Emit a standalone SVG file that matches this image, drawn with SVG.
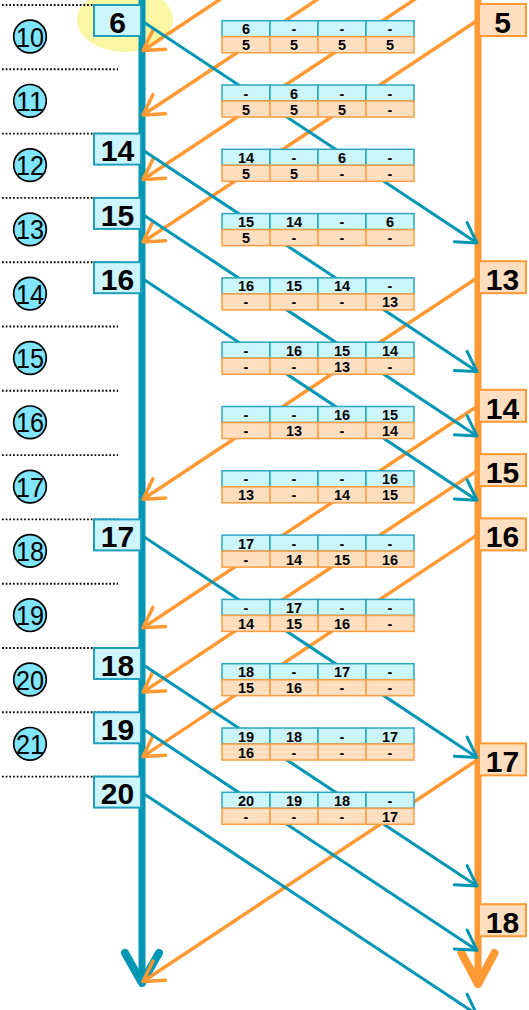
<svg xmlns="http://www.w3.org/2000/svg" width="529" height="1010" viewBox="0 0 529 1010">
<style>
.dot{stroke:#000;stroke-width:1.9;stroke-dasharray:1.7 2;fill:none}
.circ{fill:#80e6ff;stroke:#000;stroke-width:1.7}
.ct{font-family:"Liberation Sans",Arial,sans-serif;font-size:28px;fill:#000;text-anchor:middle}
.bb{fill:#ccf5fd;stroke:#1e9fbd;stroke-width:2}
.ob{fill:#ffdfc0;stroke:#ff9933;stroke-width:2}
.bt{font-family:"Liberation Sans",Arial,sans-serif;font-size:30px;font-weight:bold;fill:#000;text-anchor:middle}
.tc{fill:#ccf6fd;stroke:#2aa5c4;stroke-width:1.5}
.oc{fill:#ffdfc0;stroke:#fb9d40;stroke-width:1.5}
.tt{font-family:"Liberation Sans",Arial,sans-serif;font-size:14.5px;font-weight:bold;fill:#000;text-anchor:middle}
.ba{stroke:#0096b4;stroke-width:3;fill:none;marker-end:url(#ab)}
.oa{stroke:#ff9933;stroke-width:3.5;fill:none;marker-end:url(#ao)}
</style>
<defs>
<marker id="ab" markerUnits="userSpaceOnUse" viewBox="-25 -15 30 30" markerWidth="30" markerHeight="30" refX="0" refY="0" orient="auto" overflow="visible">
<path d="M-19.5,-11.5 L0,0 L-19.5,11.5" fill="none" stroke="#0096b4" stroke-width="3" stroke-linecap="round" stroke-linejoin="round"/>
</marker>
<marker id="ao" markerUnits="userSpaceOnUse" viewBox="-25 -15 30 30" markerWidth="30" markerHeight="30" refX="0" refY="0" orient="auto" overflow="visible">
<path d="M-19.5,-11.5 L0,0 L-19.5,11.5" fill="none" stroke="#ff9933" stroke-width="3.5" stroke-linecap="round" stroke-linejoin="round"/>
</marker>
</defs>
<rect width="529" height="1010" fill="#fff"/>
<ellipse id="highlight" cx="125" cy="20" rx="48" ry="32" fill="#fbf6a4"/>
<g id="separators">
<line class="dot" x1="2" y1="5" x2="118" y2="5"/>
<line class="dot" x1="2" y1="69.3" x2="118" y2="69.3"/>
<line class="dot" x1="2" y1="133.6" x2="118" y2="133.6"/>
<line class="dot" x1="2" y1="197.9" x2="118" y2="197.9"/>
<line class="dot" x1="2" y1="262.2" x2="118" y2="262.2"/>
<line class="dot" x1="2" y1="326.5" x2="118" y2="326.5"/>
<line class="dot" x1="2" y1="390.8" x2="118" y2="390.8"/>
<line class="dot" x1="2" y1="455.1" x2="118" y2="455.1"/>
<line class="dot" x1="2" y1="519.4" x2="118" y2="519.4"/>
<line class="dot" x1="2" y1="583.7" x2="118" y2="583.7"/>
<line class="dot" x1="2" y1="648" x2="118" y2="648"/>
<line class="dot" x1="2" y1="712.3" x2="118" y2="712.3"/>
<line class="dot" x1="2" y1="776.6" x2="118" y2="776.6"/>
</g>
<g id="steps">
<g id="step10"><circle class="circ" cx="30" cy="36.5" r="16.3"/><text class="ct" x="30" y="46.5" textLength="28" lengthAdjust="spacingAndGlyphs">10</text></g>
<g id="step11"><circle class="circ" cx="30" cy="100.8" r="16.3"/><text class="ct" x="30" y="110.8" textLength="28" lengthAdjust="spacingAndGlyphs">11</text></g>
<g id="step12"><circle class="circ" cx="30" cy="165.1" r="16.3"/><text class="ct" x="30" y="175.1" textLength="28" lengthAdjust="spacingAndGlyphs">12</text></g>
<g id="step13"><circle class="circ" cx="30" cy="229.4" r="16.3"/><text class="ct" x="30" y="239.4" textLength="28" lengthAdjust="spacingAndGlyphs">13</text></g>
<g id="step14"><circle class="circ" cx="30" cy="293.7" r="16.3"/><text class="ct" x="30" y="303.7" textLength="28" lengthAdjust="spacingAndGlyphs">14</text></g>
<g id="step15"><circle class="circ" cx="30" cy="358" r="16.3"/><text class="ct" x="30" y="368" textLength="28" lengthAdjust="spacingAndGlyphs">15</text></g>
<g id="step16"><circle class="circ" cx="30" cy="422.3" r="16.3"/><text class="ct" x="30" y="432.3" textLength="28" lengthAdjust="spacingAndGlyphs">16</text></g>
<g id="step17"><circle class="circ" cx="30" cy="486.6" r="16.3"/><text class="ct" x="30" y="496.6" textLength="28" lengthAdjust="spacingAndGlyphs">17</text></g>
<g id="step18"><circle class="circ" cx="30" cy="550.9" r="16.3"/><text class="ct" x="30" y="560.9" textLength="28" lengthAdjust="spacingAndGlyphs">18</text></g>
<g id="step19"><circle class="circ" cx="30" cy="615.2" r="16.3"/><text class="ct" x="30" y="625.2" textLength="28" lengthAdjust="spacingAndGlyphs">19</text></g>
<g id="step20"><circle class="circ" cx="30" cy="679.5" r="16.3"/><text class="ct" x="30" y="689.5" textLength="28" lengthAdjust="spacingAndGlyphs">20</text></g>
<g id="step21"><circle class="circ" cx="30" cy="743.8" r="16.3"/><text class="ct" x="30" y="753.8" textLength="28" lengthAdjust="spacingAndGlyphs">21</text></g>
</g>
<g id="timelines">
<line x1="142" y1="0" x2="142" y2="982" stroke="#0096b4" stroke-width="7"/>
<polyline points="125,953 142,983 159,953" fill="none" stroke="#0096b4" stroke-width="8" stroke-linecap="round" stroke-linejoin="round"/>
<line x1="478" y1="0" x2="478" y2="983" stroke="#ff9933" stroke-width="7"/>
<polyline points="461.5,953 478,984 494.5,953" fill="none" stroke="#ff9933" stroke-width="8" stroke-linecap="round" stroke-linejoin="round"/>
</g>
<g id="connectors">
<line class="oa" x1="478" y1="-171.5" x2="143" y2="50.5"/>
<line class="oa" x1="478" y1="-107" x2="143" y2="115"/>
<line class="oa" x1="478" y1="-42.5" x2="143" y2="179.5"/>
<line class="oa" x1="478" y1="20" x2="143" y2="242"/>
<line class="oa" x1="478" y1="277.2" x2="143" y2="499.2"/>
<line class="oa" x1="478" y1="405.8" x2="143" y2="627.8"/>
<line class="oa" x1="478" y1="470.1" x2="143" y2="692.1"/>
<line class="oa" x1="478" y1="534.4" x2="143" y2="756.4"/>
<line class="oa" x1="478" y1="759.5" x2="143" y2="981.5"/>
<line class="ba" x1="142" y1="21" x2="477" y2="243"/>
<line class="ba" x1="142" y1="149.6" x2="477" y2="371.6"/>
<line class="ba" x1="142" y1="213.9" x2="477" y2="435.9"/>
<line class="ba" x1="142" y1="278.2" x2="477" y2="500.2"/>
<line class="ba" x1="142" y1="535.4" x2="477" y2="757.4"/>
<line class="ba" x1="142" y1="664" x2="477" y2="886"/>
<line class="ba" x1="142" y1="728.3" x2="477" y2="950.3"/>
<line class="ba" x1="142" y1="792.6" x2="477" y2="1014.6"/>
</g>
<g id="tables">
<g id="t0" transform="translate(222,20.7)"><rect class="tc" x="0" y="0" width="48" height="16"/><rect class="tc" x="48" y="0" width="48" height="16"/><rect class="tc" x="96" y="0" width="48" height="16"/><rect class="tc" x="144" y="0" width="48" height="16"/><rect class="oc" x="0" y="16" width="48" height="16"/><rect class="oc" x="48" y="16" width="48" height="16"/><rect class="oc" x="96" y="16" width="48" height="16"/><rect class="oc" x="144" y="16" width="48" height="16"/>
<text class="tt" x="24" y="13.5">6</text><text class="tt" x="72" y="13.5">-</text><text class="tt" x="120" y="13.5">-</text><text class="tt" x="168" y="13.5">-</text>
<text class="tt" x="24" y="29.5">5</text><text class="tt" x="72" y="29.5">5</text><text class="tt" x="120" y="29.5">5</text><text class="tt" x="168" y="29.5">5</text></g>
<g id="t1" transform="translate(222,85)"><rect class="tc" x="0" y="0" width="48" height="16"/><rect class="tc" x="48" y="0" width="48" height="16"/><rect class="tc" x="96" y="0" width="48" height="16"/><rect class="tc" x="144" y="0" width="48" height="16"/><rect class="oc" x="0" y="16" width="48" height="16"/><rect class="oc" x="48" y="16" width="48" height="16"/><rect class="oc" x="96" y="16" width="48" height="16"/><rect class="oc" x="144" y="16" width="48" height="16"/>
<text class="tt" x="24" y="13.5">-</text><text class="tt" x="72" y="13.5">6</text><text class="tt" x="120" y="13.5">-</text><text class="tt" x="168" y="13.5">-</text>
<text class="tt" x="24" y="29.5">5</text><text class="tt" x="72" y="29.5">5</text><text class="tt" x="120" y="29.5">5</text><text class="tt" x="168" y="29.5">-</text></g>
<g id="t2" transform="translate(222,149.3)"><rect class="tc" x="0" y="0" width="48" height="16"/><rect class="tc" x="48" y="0" width="48" height="16"/><rect class="tc" x="96" y="0" width="48" height="16"/><rect class="tc" x="144" y="0" width="48" height="16"/><rect class="oc" x="0" y="16" width="48" height="16"/><rect class="oc" x="48" y="16" width="48" height="16"/><rect class="oc" x="96" y="16" width="48" height="16"/><rect class="oc" x="144" y="16" width="48" height="16"/>
<text class="tt" x="24" y="13.5">14</text><text class="tt" x="72" y="13.5">-</text><text class="tt" x="120" y="13.5">6</text><text class="tt" x="168" y="13.5">-</text>
<text class="tt" x="24" y="29.5">5</text><text class="tt" x="72" y="29.5">5</text><text class="tt" x="120" y="29.5">-</text><text class="tt" x="168" y="29.5">-</text></g>
<g id="t3" transform="translate(222,213.6)"><rect class="tc" x="0" y="0" width="48" height="16"/><rect class="tc" x="48" y="0" width="48" height="16"/><rect class="tc" x="96" y="0" width="48" height="16"/><rect class="tc" x="144" y="0" width="48" height="16"/><rect class="oc" x="0" y="16" width="48" height="16"/><rect class="oc" x="48" y="16" width="48" height="16"/><rect class="oc" x="96" y="16" width="48" height="16"/><rect class="oc" x="144" y="16" width="48" height="16"/>
<text class="tt" x="24" y="13.5">15</text><text class="tt" x="72" y="13.5">14</text><text class="tt" x="120" y="13.5">-</text><text class="tt" x="168" y="13.5">6</text>
<text class="tt" x="24" y="29.5">5</text><text class="tt" x="72" y="29.5">-</text><text class="tt" x="120" y="29.5">-</text><text class="tt" x="168" y="29.5">-</text></g>
<g id="t4" transform="translate(222,277.9)"><rect class="tc" x="0" y="0" width="48" height="16"/><rect class="tc" x="48" y="0" width="48" height="16"/><rect class="tc" x="96" y="0" width="48" height="16"/><rect class="tc" x="144" y="0" width="48" height="16"/><rect class="oc" x="0" y="16" width="48" height="16"/><rect class="oc" x="48" y="16" width="48" height="16"/><rect class="oc" x="96" y="16" width="48" height="16"/><rect class="oc" x="144" y="16" width="48" height="16"/>
<text class="tt" x="24" y="13.5">16</text><text class="tt" x="72" y="13.5">15</text><text class="tt" x="120" y="13.5">14</text><text class="tt" x="168" y="13.5">-</text>
<text class="tt" x="24" y="29.5">-</text><text class="tt" x="72" y="29.5">-</text><text class="tt" x="120" y="29.5">-</text><text class="tt" x="168" y="29.5">13</text></g>
<g id="t5" transform="translate(222,342.2)"><rect class="tc" x="0" y="0" width="48" height="16"/><rect class="tc" x="48" y="0" width="48" height="16"/><rect class="tc" x="96" y="0" width="48" height="16"/><rect class="tc" x="144" y="0" width="48" height="16"/><rect class="oc" x="0" y="16" width="48" height="16"/><rect class="oc" x="48" y="16" width="48" height="16"/><rect class="oc" x="96" y="16" width="48" height="16"/><rect class="oc" x="144" y="16" width="48" height="16"/>
<text class="tt" x="24" y="13.5">-</text><text class="tt" x="72" y="13.5">16</text><text class="tt" x="120" y="13.5">15</text><text class="tt" x="168" y="13.5">14</text>
<text class="tt" x="24" y="29.5">-</text><text class="tt" x="72" y="29.5">-</text><text class="tt" x="120" y="29.5">13</text><text class="tt" x="168" y="29.5">-</text></g>
<g id="t6" transform="translate(222,406.5)"><rect class="tc" x="0" y="0" width="48" height="16"/><rect class="tc" x="48" y="0" width="48" height="16"/><rect class="tc" x="96" y="0" width="48" height="16"/><rect class="tc" x="144" y="0" width="48" height="16"/><rect class="oc" x="0" y="16" width="48" height="16"/><rect class="oc" x="48" y="16" width="48" height="16"/><rect class="oc" x="96" y="16" width="48" height="16"/><rect class="oc" x="144" y="16" width="48" height="16"/>
<text class="tt" x="24" y="13.5">-</text><text class="tt" x="72" y="13.5">-</text><text class="tt" x="120" y="13.5">16</text><text class="tt" x="168" y="13.5">15</text>
<text class="tt" x="24" y="29.5">-</text><text class="tt" x="72" y="29.5">13</text><text class="tt" x="120" y="29.5">-</text><text class="tt" x="168" y="29.5">14</text></g>
<g id="t7" transform="translate(222,470.8)"><rect class="tc" x="0" y="0" width="48" height="16"/><rect class="tc" x="48" y="0" width="48" height="16"/><rect class="tc" x="96" y="0" width="48" height="16"/><rect class="tc" x="144" y="0" width="48" height="16"/><rect class="oc" x="0" y="16" width="48" height="16"/><rect class="oc" x="48" y="16" width="48" height="16"/><rect class="oc" x="96" y="16" width="48" height="16"/><rect class="oc" x="144" y="16" width="48" height="16"/>
<text class="tt" x="24" y="13.5">-</text><text class="tt" x="72" y="13.5">-</text><text class="tt" x="120" y="13.5">-</text><text class="tt" x="168" y="13.5">16</text>
<text class="tt" x="24" y="29.5">13</text><text class="tt" x="72" y="29.5">-</text><text class="tt" x="120" y="29.5">14</text><text class="tt" x="168" y="29.5">15</text></g>
<g id="t8" transform="translate(222,535.1)"><rect class="tc" x="0" y="0" width="48" height="16"/><rect class="tc" x="48" y="0" width="48" height="16"/><rect class="tc" x="96" y="0" width="48" height="16"/><rect class="tc" x="144" y="0" width="48" height="16"/><rect class="oc" x="0" y="16" width="48" height="16"/><rect class="oc" x="48" y="16" width="48" height="16"/><rect class="oc" x="96" y="16" width="48" height="16"/><rect class="oc" x="144" y="16" width="48" height="16"/>
<text class="tt" x="24" y="13.5">17</text><text class="tt" x="72" y="13.5">-</text><text class="tt" x="120" y="13.5">-</text><text class="tt" x="168" y="13.5">-</text>
<text class="tt" x="24" y="29.5">-</text><text class="tt" x="72" y="29.5">14</text><text class="tt" x="120" y="29.5">15</text><text class="tt" x="168" y="29.5">16</text></g>
<g id="t9" transform="translate(222,599.4)"><rect class="tc" x="0" y="0" width="48" height="16"/><rect class="tc" x="48" y="0" width="48" height="16"/><rect class="tc" x="96" y="0" width="48" height="16"/><rect class="tc" x="144" y="0" width="48" height="16"/><rect class="oc" x="0" y="16" width="48" height="16"/><rect class="oc" x="48" y="16" width="48" height="16"/><rect class="oc" x="96" y="16" width="48" height="16"/><rect class="oc" x="144" y="16" width="48" height="16"/>
<text class="tt" x="24" y="13.5">-</text><text class="tt" x="72" y="13.5">17</text><text class="tt" x="120" y="13.5">-</text><text class="tt" x="168" y="13.5">-</text>
<text class="tt" x="24" y="29.5">14</text><text class="tt" x="72" y="29.5">15</text><text class="tt" x="120" y="29.5">16</text><text class="tt" x="168" y="29.5">-</text></g>
<g id="t10" transform="translate(222,663.7)"><rect class="tc" x="0" y="0" width="48" height="16"/><rect class="tc" x="48" y="0" width="48" height="16"/><rect class="tc" x="96" y="0" width="48" height="16"/><rect class="tc" x="144" y="0" width="48" height="16"/><rect class="oc" x="0" y="16" width="48" height="16"/><rect class="oc" x="48" y="16" width="48" height="16"/><rect class="oc" x="96" y="16" width="48" height="16"/><rect class="oc" x="144" y="16" width="48" height="16"/>
<text class="tt" x="24" y="13.5">18</text><text class="tt" x="72" y="13.5">-</text><text class="tt" x="120" y="13.5">17</text><text class="tt" x="168" y="13.5">-</text>
<text class="tt" x="24" y="29.5">15</text><text class="tt" x="72" y="29.5">16</text><text class="tt" x="120" y="29.5">-</text><text class="tt" x="168" y="29.5">-</text></g>
<g id="t11" transform="translate(222,728)"><rect class="tc" x="0" y="0" width="48" height="16"/><rect class="tc" x="48" y="0" width="48" height="16"/><rect class="tc" x="96" y="0" width="48" height="16"/><rect class="tc" x="144" y="0" width="48" height="16"/><rect class="oc" x="0" y="16" width="48" height="16"/><rect class="oc" x="48" y="16" width="48" height="16"/><rect class="oc" x="96" y="16" width="48" height="16"/><rect class="oc" x="144" y="16" width="48" height="16"/>
<text class="tt" x="24" y="13.5">19</text><text class="tt" x="72" y="13.5">18</text><text class="tt" x="120" y="13.5">-</text><text class="tt" x="168" y="13.5">17</text>
<text class="tt" x="24" y="29.5">16</text><text class="tt" x="72" y="29.5">-</text><text class="tt" x="120" y="29.5">-</text><text class="tt" x="168" y="29.5">-</text></g>
<g id="t12" transform="translate(222,792.3)"><rect class="tc" x="0" y="0" width="48" height="16"/><rect class="tc" x="48" y="0" width="48" height="16"/><rect class="tc" x="96" y="0" width="48" height="16"/><rect class="tc" x="144" y="0" width="48" height="16"/><rect class="oc" x="0" y="16" width="48" height="16"/><rect class="oc" x="48" y="16" width="48" height="16"/><rect class="oc" x="96" y="16" width="48" height="16"/><rect class="oc" x="144" y="16" width="48" height="16"/>
<text class="tt" x="24" y="13.5">20</text><text class="tt" x="72" y="13.5">19</text><text class="tt" x="120" y="13.5">18</text><text class="tt" x="168" y="13.5">-</text>
<text class="tt" x="24" y="29.5">-</text><text class="tt" x="72" y="29.5">-</text><text class="tt" x="120" y="29.5">-</text><text class="tt" x="168" y="29.5">17</text></g>
</g>
<g id="sender">
<g id="s6"><rect class="bb" x="94" y="5" width="47" height="31"/><text class="bt" x="117.5" y="32.7">6</text></g>
<g id="s14"><rect class="bb" x="94" y="133.6" width="47" height="31"/><text class="bt" x="117.5" y="161.3">14</text></g>
<g id="s15"><rect class="bb" x="94" y="197.9" width="47" height="31"/><text class="bt" x="117.5" y="225.6">15</text></g>
<g id="s16"><rect class="bb" x="94" y="262.2" width="47" height="31"/><text class="bt" x="117.5" y="289.9">16</text></g>
<g id="s17"><rect class="bb" x="94" y="519.4" width="47" height="31"/><text class="bt" x="117.5" y="547.1">17</text></g>
<g id="s18"><rect class="bb" x="94" y="648" width="47" height="31"/><text class="bt" x="117.5" y="675.7">18</text></g>
<g id="s19"><rect class="bb" x="94" y="712.3" width="47" height="31"/><text class="bt" x="117.5" y="740">19</text></g>
<g id="s20"><rect class="bb" x="94" y="776.6" width="47" height="31"/><text class="bt" x="117.5" y="804.3">20</text></g>
</g>
<g id="receiver">
<g id="r5"><rect class="ob" x="479" y="4" width="47" height="32"/><text class="bt" x="502.5" y="33">5</text></g>
<g id="r13"><rect class="ob" x="479" y="261.2" width="47" height="32"/><text class="bt" x="502.5" y="290.2">13</text></g>
<g id="r14"><rect class="ob" x="479" y="389.8" width="47" height="32"/><text class="bt" x="502.5" y="418.8">14</text></g>
<g id="r15"><rect class="ob" x="479" y="454.1" width="47" height="32"/><text class="bt" x="502.5" y="483.1">15</text></g>
<g id="r16"><rect class="ob" x="479" y="518.4" width="47" height="32"/><text class="bt" x="502.5" y="547.4">16</text></g>
<g id="r17"><rect class="ob" x="479" y="743.4" width="47" height="32"/><text class="bt" x="502.5" y="772.4">17</text></g>
<g id="r18"><rect class="ob" x="479" y="904.2" width="47" height="32"/><text class="bt" x="502.5" y="933.2">18</text></g>
</g>
</svg>
